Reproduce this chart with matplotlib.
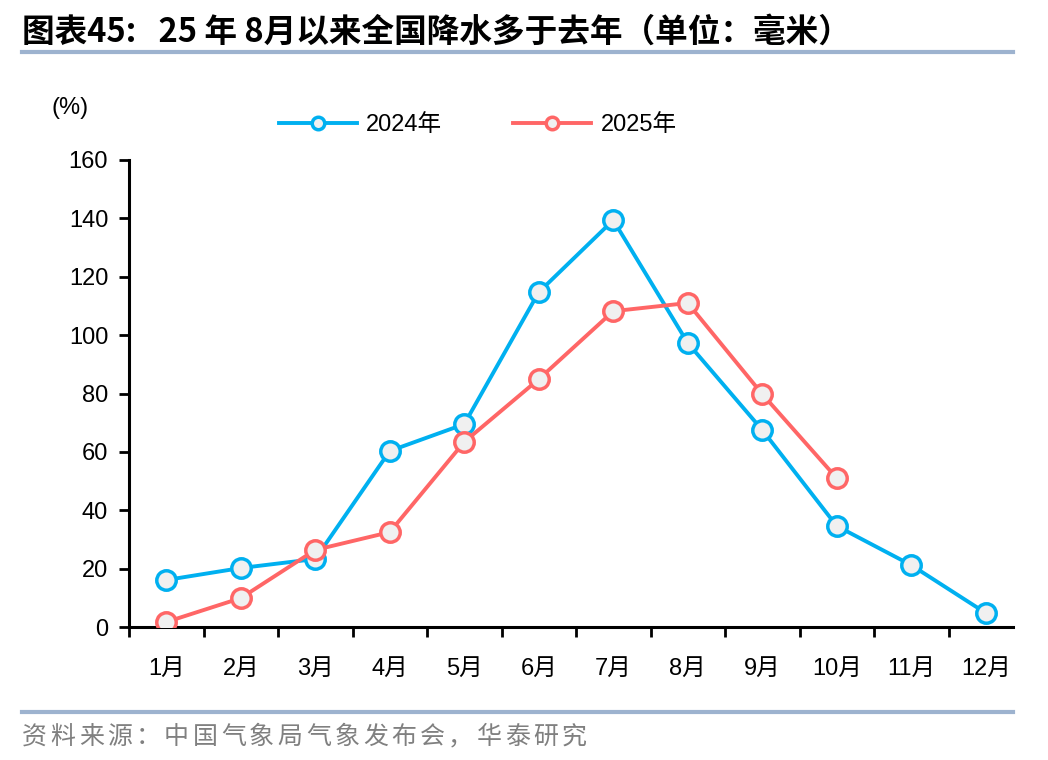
import matplotlib
matplotlib.use('Agg')
import matplotlib.pyplot as plt
import numpy as np
from matplotlib.lines import Line2D

plt.rcParams['font.family'] = ['Liberation Sans', 'Noto Sans CJK SC', 'DejaVu Sans']

months = ['1月', '2月', '3月', '4月', '5月', '6月', '7月', '8月', '9月', '10月', '11月', '12月']
rain_2024 = [16.1, 20.2, 23.3, 60.3, 69.5, 114.7, 139.4, 97.3, 67.5, 34.6, 21.2, 4.8]
rain_2025 = [1.7, 9.9, 26.4, 32.5, 63.4, 84.9, 108.2, 111.0, 79.8, 51.0]
yticks = [0, 20, 40, 60, 80, 100, 120, 140, 160]

title = '图表45:   25 年 8月以来全国降水多于去年（单位：毫米）'
source = '资料来源：中国气象局气象发布会，华泰研究'

blue = '#00B0F0'
red = '#FF6666'
face = '#F0F0F0'
rule = '#9DB3CF'

fig = plt.figure(figsize=(10.48, 7.6), dpi=100)
# axes spans 129px..1023px, 160px..627px
ax = fig.add_axes([129 / 1048, 133 / 760, 894 / 1048, 467 / 760])

x24 = np.arange(len(rain_2024))
x25 = np.arange(len(rain_2025))
ax.plot(x24, rain_2024, color=blue, lw=2.8, marker='o', ms=14, mfc=face, mec=blue, mew=2.5, zorder=3)
ax.plot(x25, rain_2025, color=red, lw=2.8, marker='o', ms=14, mfc=face, mec=red, mew=2.5, zorder=4)

ax.set_xlim(-0.5, 11.5)
ax.set_ylim(0, 160)
ax.set_yticks(yticks)
ax.set_yticklabels([str(v) for v in yticks], fontsize=17)
ax.set_xticks(np.arange(-0.5, 11, 1))
ax.set_xticklabels([])
ax.set_xticks(np.arange(12), minor=True)
ax.set_xticklabels(months, minor=True, fontsize=17)
ax.tick_params(axis='x', which='minor', length=0, pad=22)
ax.tick_params(axis='x', which='major', length=7, width=2, direction='out')
ax.tick_params(axis='y', length=7, width=2, direction='out', pad=8)
for s in ['top', 'right']:
    ax.spines[s].set_visible(False)
for s in ['left', 'bottom']:
    ax.spines[s].set_linewidth(2.2)
ax.spines['bottom'].set_bounds(-0.5, 11.37)

fig.text(0.049, 0.858, '(%)', fontsize=17, ha='left', va='center')

h24 = Line2D([], [], color=blue, lw=2.8, marker='o', ms=9, mfc=face, mec=blue, mew=2.5)
h25 = Line2D([], [], color=red, lw=2.8, marker='o', ms=9, mfc=face, mec=red, mew=2.5)
fig.legend([h24, h25], ['2024年', '2025年'], loc='center', bbox_to_anchor=(0.456, 0.835),
           ncol=2, frameon=False, fontsize=17, handlelength=3.3, columnspacing=3.0,
           handletextpad=0.4)

fig.text(0.021, 0.958, title, fontsize=23.5, fontweight='bold', ha='left', va='center',
         family=['Noto Sans CJK SC', 'DejaVu Sans'])
fig.add_artist(Line2D([0.021, 0.967], [0.9316, 0.9316], color=rule, lw=3,
                      transform=fig.transFigure))
fig.add_artist(Line2D([0.021, 0.967], [0.0632, 0.0632], color=rule, lw=3,
                      transform=fig.transFigure))
# source line is letter-spaced in the original
for i, ch in enumerate(source):
    fig.text((22 + i * 28.4) / 1048, 0.030, ch, fontsize=18, color='#808080',
             ha='left', va='center', family=['Noto Sans CJK SC', 'DejaVu Sans'])

fig.savefig('out.png', dpi=100)
